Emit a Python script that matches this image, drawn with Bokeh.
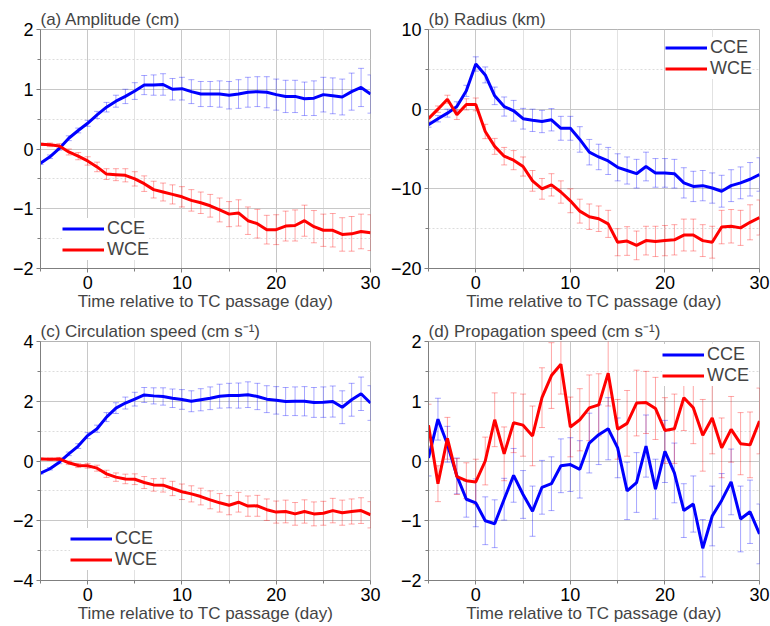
from bokeh.plotting import figure
from bokeh.models import (ColumnDataSource, Whisker, TeeHead, FixedTicker, Range1d,
                          Legend, LegendItem)
from bokeh.layouts import gridplot
from bokeh.embed import file_html
from bokeh.resources import INLINE

days = list(range(-5, 31))

# (a) Amplitude (cm)
amp_cce = [-0.24, -0.13, 0.01, 0.18, 0.31, 0.43, 0.57, 0.70, 0.80, 0.88, 0.97, 1.07, 1.07, 1.08,
           1.00, 1.01, 0.96, 0.92, 0.92, 0.92, 0.90, 0.92, 0.95, 0.96, 0.95, 0.91, 0.88, 0.88,
           0.84, 0.85, 0.91, 0.89, 0.87, 0.96, 1.03, 0.92]
amp_cce_err = [0.02, 0.03, 0.03, 0.04, 0.04, 0.05, 0.06, 0.08, 0.10, 0.12, 0.14, 0.16, 0.17, 0.18,
               0.18, 0.19, 0.20, 0.21, 0.21, 0.22, 0.23, 0.24, 0.25, 0.25, 0.26, 0.26, 0.27, 0.27,
               0.28, 0.29, 0.29, 0.30, 0.30, 0.31, 0.32, 0.32]
amp_wce = [0.08, 0.07, 0.05, -0.05, -0.12, -0.20, -0.30, -0.42, -0.43, -0.44, -0.50, -0.58, -0.68,
           -0.72, -0.76, -0.80, -0.86, -0.90, -0.95, -1.02, -1.09, -1.07, -1.20, -1.25, -1.35,
           -1.35, -1.29, -1.28, -1.20, -1.30, -1.36, -1.36, -1.43, -1.42, -1.38, -1.40]
amp_wce_err = [0.02, 0.03, 0.04, 0.05, 0.06, 0.07, 0.08, 0.09, 0.10, 0.11, 0.12, 0.13, 0.14, 0.15,
               0.16, 0.17, 0.18, 0.18, 0.19, 0.20, 0.21, 0.22, 0.23, 0.24, 0.24, 0.25, 0.25, 0.26,
               0.26, 0.27, 0.27, 0.28, 0.28, 0.29, 0.29, 0.30]

# (b) Radius (km)
rad_cce = [-1.96, -1.2, -0.5, 0.33, 2.3, 5.67, 4.3, 1.67, 0.33, -0.2, -1.2, -1.4, -1.55, -1.33,
           -2.4, -2.4, -3.8, -5.4, -6.0, -6.5, -7.3, -7.7, -8.1, -7.2, -8.0, -8.0, -8.1, -9.25,
           -9.7, -9.6, -9.9, -10.3, -9.6, -9.25, -8.8, -8.2]
rad_cce_err = [0.3, 0.4, 0.5, 0.6, 0.7, 0.9, 1.0, 1.1, 1.2, 1.3, 1.3, 1.4, 1.4, 1.4, 1.5, 1.5,
               1.6, 1.6, 1.6, 1.7, 1.7, 1.7, 1.8, 1.8, 1.8, 1.8, 1.8, 1.9, 1.9, 1.9, 1.9, 2.0,
               2.0, 2.0, 2.1, 2.1]
rad_wce = [-1.2, 0.0, 1.25, -0.7, 0.6, 0.6, -2.8, -4.67, -5.9, -6.4, -7.2, -9.0, -10.0, -9.5,
           -10.4, -11.5, -12.8, -13.5, -13.75, -14.4, -16.7, -16.55, -17.1, -16.5, -16.6, -16.5,
           -16.4, -15.8, -15.8, -16.5, -16.7, -14.8, -14.7, -14.9, -14.2, -13.6]
rad_wce_err = [0.3, 0.4, 0.5, 0.6, 0.7, 0.8, 0.9, 1.0, 1.1, 1.2, 1.2, 1.3, 1.3, 1.4, 1.4, 1.5,
               1.5, 1.6, 1.6, 1.7, 1.7, 1.8, 1.8, 1.8, 1.9, 1.9, 1.9, 2.0, 2.0, 2.0, 2.0, 2.1,
               2.1, 2.2, 2.2, 2.2]

# (c) Circulation speed (cm s-1)
cir_cce = [-0.41, -0.26, -0.04, 0.24, 0.50, 0.85, 1.08, 1.47, 1.77, 1.94, 2.07, 2.21, 2.18, 2.16,
           2.10, 2.06, 2.00, 2.05, 2.10, 2.17, 2.19, 2.19, 2.22, 2.16, 2.07, 2.03, 1.99, 2.00,
           2.00, 1.96, 1.97, 1.99, 1.80, 2.05, 2.25, 1.94]
cir_cce_err = [0.03, 0.04, 0.05, 0.06, 0.08, 0.10, 0.12, 0.15, 0.18, 0.20, 0.23, 0.25, 0.27, 0.29,
               0.31, 0.33, 0.35, 0.37, 0.38, 0.40, 0.41, 0.42, 0.43, 0.44, 0.45, 0.46, 0.47, 0.48,
               0.49, 0.50, 0.51, 0.52, 0.55, 0.55, 0.56, 0.58]
cir_wce = [0.07, 0.06, 0.07, -0.06, -0.15, -0.16, -0.24, -0.43, -0.54, -0.60, -0.61, -0.72, -0.80,
           -0.81, -0.92, -1.03, -1.10, -1.19, -1.30, -1.40, -1.48, -1.38, -1.51, -1.50, -1.63,
           -1.71, -1.69, -1.77, -1.69, -1.77, -1.75, -1.66, -1.73, -1.69, -1.66, -1.80]
cir_wce_err = [0.03, 0.04, 0.05, 0.06, 0.07, 0.08, 0.10, 0.12, 0.14, 0.16, 0.18, 0.20, 0.21, 0.23,
               0.24, 0.26, 0.27, 0.28, 0.30, 0.31, 0.32, 0.33, 0.34, 0.35, 0.36, 0.37, 0.38, 0.38,
               0.39, 0.40, 0.40, 0.41, 0.42, 0.42, 0.43, 0.44]

# (d) Propagation speed (cm s-1)
pro_cce = [0.05, 0.70, 0.28, -0.25, -0.64, -0.70, -1.00, -1.05, -0.64, -0.24, -0.56, -0.84, -0.44,
           -0.38, -0.08, -0.06, -0.14, 0.30, 0.44, 0.54, 0.22, -0.50, -0.36, 0.25, -0.47, 0.16,
           -0.20, -0.83, -0.72, -1.46, -0.92, -0.66, -0.35, -0.97, -0.85, -1.22]
pro_cce_err = [0.30, 0.35, 0.30, 0.30, 0.30, 0.40, 0.40, 0.40, 0.35, 0.45, 0.40, 0.42, 0.45, 0.45,
               0.45, 0.45, 0.48, 0.50, 0.50, 0.52, 0.50, 0.48, 0.50, 0.52, 0.50, 0.52, 0.50, 0.45,
               0.47, 0.48, 0.50, 0.45, 0.55, 0.55, 0.53, 0.50]
pro_wce = [0.60, -0.38, 0.38, -0.26, -0.33, -0.35, 0.00, 0.69, 0.12, 0.64, 0.60, 0.42, 1.06, 1.43,
           1.62, 0.57, 0.69, 0.89, 0.94, 1.47, 0.53, 0.63, 0.97, 0.98, 0.88, 0.51, 0.54, 1.06,
           0.89, 0.43, 0.72, 0.22, 0.53, 0.29, 0.27, 0.67]
pro_wce_err = [0.35, 0.30, 0.35, 0.30, 0.30, 0.38, 0.40, 0.45, 0.45, 0.50, 0.52, 0.50, 0.50, 0.55,
               0.50, 0.50, 0.52, 0.55, 0.52, 0.55, 0.50, 0.55, 0.55, 0.52, 0.52, 0.55, 0.58, 0.55,
               0.60, 0.60, 0.60, 0.50, 0.55, 0.52, 0.55, 0.55]

x_ticks = [0, 10, 20, 30]
x_minor = [-5, 5, 15, 25]

FONT = "Liberation Sans"


def make_panel(title, cce, cce_err, wce, wce_err, yr, yticks, yminor, leg_xy,
               bl, br, bt, bb):
    p = figure(width=385, height=313, output_backend="svg", toolbar_location=None,
               x_range=Range1d(-5, 30), y_range=Range1d(*yr),
               min_border_left=bl, min_border_right=br, min_border_top=bt,
               min_border_bottom=bb)
    p.title.text = title
    p.title.text_font = FONT
    p.title.text_font_size = "17px"
    p.title.text_font_style = "normal"
    p.title.align = "left"
    p.title.standoff = 2
    p.title.offset = 0

    p.xaxis.ticker = FixedTicker(ticks=x_ticks, minor_ticks=x_minor)
    p.yaxis.ticker = FixedTicker(ticks=yticks, minor_ticks=yminor)
    p.xaxis.axis_label = "Time relative to TC passage (day)"
    for ax in (p.xaxis[0], p.yaxis[0]):
        ax.axis_line_color = "#7f7f7f"
        ax.major_tick_line_color = "#7f7f7f"
        ax.minor_tick_line_color = "#7f7f7f"
        ax.major_tick_in = 0
        ax.major_tick_out = 4
        ax.minor_tick_in = 0
        ax.minor_tick_out = 3
        ax.major_label_text_font = FONT
        ax.major_label_text_font_size = "18px"
        ax.major_label_text_color = "black"
        ax.major_label_standoff = 3
    p.xaxis.axis_label_text_font = FONT
    p.xaxis.axis_label_text_font_size = "17px"
    p.xaxis.axis_label_text_font_style = "normal"
    p.xaxis.axis_label_standoff = 0

    p.xgrid.grid_line_color = "#c8c8c8"
    p.ygrid.grid_line_color = "#c8c8c8"
    p.xgrid.minor_grid_line_color = "#e2e2e2"
    p.ygrid.minor_grid_line_color = "#dcdcdc"
    p.ygrid.minor_grid_line_dash = "2 2"
    p.outline_line_color = "#b4b4b4"

    for vals, errs, col in ((cce, cce_err, "#0000ff"), (wce, wce_err, "#ff0000")):
        lower = [v - e for v, e in zip(vals, errs)]
        upper = [v + e for v, e in zip(vals, errs)]
        src = ColumnDataSource(dict(x=days, lower=lower, upper=upper))
        w = Whisker(source=src, base="x", lower="lower", upper="upper",
                    line_color=col, line_alpha=0.35, line_width=1,
                    upper_head=TeeHead(size=6, line_color=col, line_alpha=0.35),
                    lower_head=TeeHead(size=6, line_color=col, line_alpha=0.35))
        p.add_layout(w)

    r1 = p.line(days, cce, line_color="#0000ff", line_width=3)
    r2 = p.line(days, wce, line_color="#ff0000", line_width=3)
    leg = Legend(items=[LegendItem(label="CCE", renderers=[r1]),
                        LegendItem(label="WCE", renderers=[r2])],
                 location=leg_xy, border_line_color=None, background_fill_alpha=1,
                 margin=0, padding=0, spacing=0, glyph_width=42, glyph_height=19,
                 label_height=19, label_standoff=3, label_text_font=FONT,
                 label_text_font_size="18px")
    p.add_layout(leg)
    return p


pa = make_panel("(a) Amplitude (cm)", amp_cce, amp_cce_err, amp_wce, amp_wce_err,
                (-2, 2), [-2, -1, 0, 1, 2], [-1.5, -0.5, 0.5, 1.5], (22, 8), 40, 15, 29, 45)
pb = make_panel("(b) Radius (km)", rad_cce, rad_cce_err, rad_wce, rad_wce_err,
                (-20, 10), [-20, -10, 0, 10], [-15, -5, 5], (237, 189), 43, 11, 28, 45)
pc = make_panel("(c) Circulation speed (cm s\u207b\u00b9)", cir_cce, cir_cce_err, cir_wce,
                cir_wce_err, (-4, 4), [-4, -2, 0, 2, 4], [-3, -1, 1, 3], (30, 10), 40, 15, 28, 46)
pd = make_panel("(d) Propagation speed (cm s\u207b\u00b9)", pro_cce, pro_cce_err, pro_wce,
                pro_wce_err, (-2, 2), [-2, -1, 0, 1, 2], [-1.5, -0.5, 0.5, 1.5], (234, 194),
                43, 11, 28, 46)

grid = gridplot([[pa, pb], [pc, pd]], toolbar_location=None)

open("out.html", "w").write(file_html(grid, INLINE))
